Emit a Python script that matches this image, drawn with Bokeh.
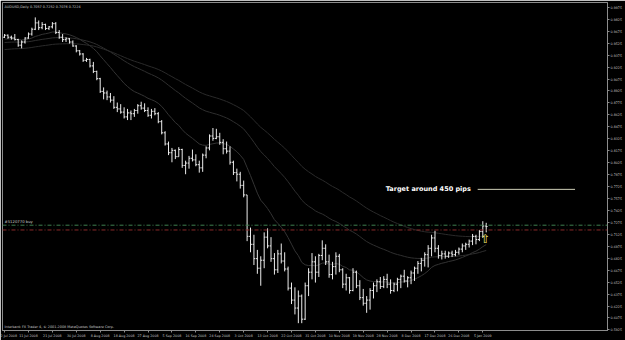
from bokeh.plotting import figure
from bokeh.models import FixedTicker, Label, ColumnDataSource, Span
from bokeh.core.properties import value
from bokeh.embed import file_html
from bokeh.resources import INLINE

# ---- AUDUSD daily bars (Jul 2008 - Jan 2009) ----
opens = [.9600, .9625, .9600, .9590, .9570, .9500, .9540, .9590, .9640, .9700,
         .9780, .9720, .9760, .9710, .9730, .9770, .9660, .9600, .9570, .9580,
         .9540, .9490, .9430, .9390, .9310, .9320, .9240, .9170, .9080, .8920,
         .8900, .8850, .8810, .8720, .8700, .8660, .8600, .8650, .8640, .8680,
         .8740, .8710, .8680, .8620, .8670, .8640, .8540, .8400, .8260, .8150,
         .8180, .8100, .8190, .7990, .8020, .8080, .8060, .8000, .7960, .8120,
         .8210, .8360, .8330, .8350, .8280, .8200, .8170, .8030, .7900, .7880,
         .7740, .7620, .7100, .7000, .6820, .6700, .6800, .7090, .6980, .6820,
         .6680, .6880, .6790, .6690, .6450, .6300, .6200, .6350, .6060, .6480,
         .6650, .6780, .6650, .6860, .6950, .6780, .6620, .6720, .6850, .6680,
         .6500, .6580, .6420, .6650, .6480, .6330, .6260, .6300, .6420, .6480,
         .6530, .6470, .6560, .6500, .6420, .6500, .6560, .6600, .6540, .6580,
         .6640, .6700, .6760, .6800, .6870, .6950, .7080, .6950, .6860, .6880,
         .6850, .6890, .6870, .6900, .6940, .6980, .7000, .7040, .7100, .7060,
         .7160, .7230]
highs = [.9640, .9635, .9620, .9640, .9580, .9560, .9600, .9660, .9720, .9849,
         .9810, .9790, .9770, .9740, .9790, .9790, .9690, .9640, .9600, .9590,
         .9560, .9500, .9440, .9400, .9340, .9330, .9290, .9180, .9090, .8970,
         .8930, .8900, .8860, .8780, .8760, .8720, .8700, .8680, .8700, .8760,
         .8790, .8770, .8720, .8700, .8710, .8660, .8560, .8420, .8290, .8210,
         .8190, .8220, .8200, .8050, .8110, .8190, .8130, .8050, .8140, .8230,
         .8380, .8460, .8450, .8400, .8320, .8290, .8230, .8050, .7950, .7910,
         .7800, .7620, .7210, .7120, .6930, .6850, .7150, .7200, .7090, .6890,
         .6930, .7010, .6900, .6720, .6520, .6460, .6420, .6370, .6520, .6700,
         .6890, .6850, .6880, .7050, .7000, .6870, .6780, .6900, .6880, .6700,
         .6630, .6590, .6700, .6670, .6550, .6440, .6350, .6450, .6520, .6560,
         .6590, .6600, .6630, .6560, .6520, .6580, .6620, .6680, .6600, .6670,
         .6720, .6790, .6830, .6900, .6990, .7120, .7170, .6990, .6920, .6920,
         .6910, .6920, .6930, .6960, .7010, .7020, .7060, .7130, .7120, .7180,
         .7290, .7270]
lows = [.9590, .9580, .9570, .9560, .9480, .9460, .9520, .9580, .9620, .9690,
        .9690, .9700, .9690, .9690, .9710, .9640, .9580, .9540, .9540, .9520,
        .9480, .9410, .9370, .9290, .9290, .9220, .9150, .9060, .8900, .8820,
        .8810, .8780, .8700, .8660, .8640, .8580, .8560, .8560, .8600, .8640,
        .8690, .8660, .8600, .8580, .8620, .8520, .8380, .8240, .8120, .8030,
        .8070, .8100, .7960, .7880, .7950, .8040, .7980, .7900, .7910, .8080,
        .8180, .8300, .8320, .8250, .8130, .8140, .8000, .7870, .7790, .7700,
        .7590, .7040, .6900, .6740, .6630, .6480, .6700, .6950, .6780, .6620,
        .6640, .6760, .6660, .6420, .6250, .6120, .6010, .6010, .6050, .6350,
        .6560, .6520, .6590, .6800, .6740, .6580, .6560, .6620, .6650, .6450,
        .6420, .6380, .6410, .6450, .6300, .6230, .6140, .6180, .6320, .6400,
        .6440, .6450, .6450, .6380, .6400, .6410, .6450, .6520, .6460, .6500,
        .6540, .6630, .6660, .6720, .6710, .6850, .6900, .6820, .6810, .6820,
        .6830, .6840, .6850, .6870, .6900, .6930, .6960, .6990, .7000, .7040,
        .7080, .7150]
closes = [.9625, .9600, .9590, .9570, .9500, .9540, .9590, .9640, .9700, .9780,
          .9720, .9760, .9710, .9730, .9770, .9660, .9600, .9570, .9580, .9540,
          .9490, .9430, .9390, .9310, .9320, .9240, .9170, .9080, .8920, .8900,
          .8850, .8810, .8720, .8700, .8660, .8600, .8650, .8640, .8680, .8740,
          .8710, .8680, .8620, .8670, .8640, .8540, .8400, .8260, .8150, .8180,
          .8100, .8190, .7990, .8020, .8080, .8060, .8000, .7960, .8120, .8210,
          .8360, .8330, .8350, .8280, .8200, .8170, .8030, .7900, .7880, .7740,
          .7620, .7100, .7000, .6820, .6700, .6800, .7090, .6980, .6820, .6680,
          .6880, .6790, .6690, .6450, .6300, .6200, .6350, .6060, .6480, .6650,
          .6780, .6650, .6860, .6950, .6780, .6620, .6720, .6850, .6680, .6500,
          .6580, .6420, .6650, .6480, .6330, .6260, .6300, .6420, .6480, .6530,
          .6470, .6560, .6500, .6420, .6500, .6560, .6600, .6540, .6580, .6640,
          .6700, .6760, .6800, .6870, .6950, .7080, .6950, .6860, .6880, .6850,
          .6890, .6870, .6900, .6940, .6980, .7000, .7040, .7100, .7060, .7160,
          .7230, .7224]

# moving averages: periods and starting values read at the left edge
ma_periods = [18, 50, 80]
ma_seeds = [0.957, 0.953, 0.944]

date_labels = ["2 Jul 2008", "11 Jul 2008", "21 Jul 2008", "30 Jul 2008", "8 Aug 2008",
               "18 Aug 2008", "27 Aug 2008", "5 Sep 2008", "16 Sep 2008", "24 Sep 2008",
               "3 Oct 2008", "13 Oct 2008", "22 Oct 2008", "31 Oct 2008", "10 Nov 2008",
               "19 Nov 2008", "28 Nov 2008", "8 Dec 2008", "17 Dec 2008", "26 Dec 2008",
               "5 Jan 2009"]
date_step = 7
price_ticks = [0.5925, 0.6075, 0.6225, 0.6375, 0.6525, 0.6675, 0.6825, 0.6975,
               0.7125, 0.7275, 0.7425, 0.7575, 0.7725, 0.7875, 0.8025, 0.8175,
               0.8325, 0.8475, 0.8625, 0.8775, 0.8925, 0.9075, 0.9225, 0.9375,
               0.9525, 0.9675, 0.9825, 0.9975]

order_price = 0.7240
order_text = "#5120770 buy"
stop_price = 0.7180
target_pips = 450
title_text = "AUDUSD,Daily  0.7057 0.7252 0.7076 0.7224"
footer_text = "Interbank FX Trader 4, \u00a9 2001-2008 MetaQuotes Software Corp."

n = len(closes)
idx = list(range(n))

# EMAs
ma_series = []
for per, seed in zip(ma_periods, ma_seeds):
    k = 2.0 / (per + 1)
    e = seed
    vals = []
    for c in closes:
        e = e + (c - e) * k
        vals.append(e)
    ma_series.append(vals)

X0, X1 = -0.6, 176.5
Y0, Y1 = 0.5918, 1.0036

p = figure(width=625, height=340, output_backend="svg", toolbar_location=None,
           x_range=(X0, X1), y_range=(Y0, Y1), y_axis_location="right",
           background_fill_color="black", border_fill_color="black",
           min_border_left=2, min_border_top=2, min_border_right=0, min_border_bottom=0)
p.grid.visible = False
p.outline_line_color = "#8c8c8c"
p.outline_line_width = 1

for ax in (p.xaxis[0], p.yaxis[0]):
    ax.axis_line_color = "#8c8c8c"
    ax.major_tick_line_color = "#8c8c8c"
    ax.minor_tick_line_color = None
    ax.major_tick_in = 0
    ax.major_tick_out = 2
    ax.major_label_text_color = "#c4c4c4"
    ax.major_label_text_font = "DejaVu Sans"
    ax.major_label_text_font_size = "3.3px"
    ax.major_label_standoff = 1

tick_pos = [i * date_step for i in range(len(date_labels))]
p.xaxis.ticker = FixedTicker(ticks=tick_pos)
p.xaxis.major_label_overrides = {t: s for t, s in zip(tick_pos, date_labels)}
p.xaxis.major_label_text_align = "left"
p.yaxis.ticker = FixedTicker(ticks=price_ticks)
p.yaxis.major_label_overrides = {t: "%.4f" % t for t in price_ticks}

# moving averages
ma_colors = ["#333333", "#2e2e2e", "#2a2a2a"]
for vals, col in zip(ma_series, ma_colors):
    p.line(idx, vals, line_color=col, line_width=1)

# order / stop lines
p.add_layout(Span(location=order_price, dimension="width", line_color="#3f7f4f",
                  line_dash="4 2 1 2", line_width=1))
p.add_layout(Span(location=stop_price, dimension="width", line_color="#8a2a2a",
                  line_dash="4 2 1 2", line_width=1))

# OHLC bars
src = ColumnDataSource(dict(x=idx, o=opens, h=highs, l=lows, c=closes,
                            xl=[i - 0.4 for i in idx], xr=[i + 0.4 for i in idx]))
bar_col = "#ececec"
p.segment(x0="x", y0="l", x1="x", y1="h", source=src, line_color=bar_col, line_width=1)
p.segment(x0="xl", y0="o", x1="x", y1="o", source=src, line_color=bar_col, line_width=1)
p.segment(x0="x", y0="c", x1="xr", y1="c", source=src, line_color=bar_col, line_width=1)

# target line and text
target_price = order_price + target_pips * 0.0001
p.segment(x0=[n - 3.5], y0=[target_price], x1=[n + 25.0], y1=[target_price],
          line_color="#cfcfb8", line_width=1)
p.text(x=[n - 5.5], y=[target_price], text=["Target around %d pips" % target_pips],
       text_color="white", text_font=value("DejaVu Sans"), text_font_style="bold",
       text_font_size="6.5px", text_align="right", text_baseline="middle")

# buy arrow
p.text(x=[n - 1.2], y=[lows[-1]], text=["\u21e7"], text_color="#f5ec70",
       text_font=value("DejaVu Sans"), text_font_size="12px",
       text_align="center", text_baseline="top")

# labels
p.add_layout(Label(x=X0, y=order_price, x_offset=2, y_offset=1, text=order_text,
                   text_color="#c8c8c8", text_font="DejaVu Sans", text_font_size="3.8px",
                   text_baseline="bottom"))
p.add_layout(Label(x=X0, y=Y1, x_offset=2, y_offset=-2, text=title_text,
                   text_color="#c8c8c8", text_font="DejaVu Sans", text_font_size="3.4px",
                   text_baseline="top"))
p.add_layout(Label(x=X0, y=Y0, x_offset=2, y_offset=2, text=footer_text,
                   text_color="#c8c8c8", text_font="DejaVu Sans", text_font_size="3.4px",
                   text_baseline="bottom"))
p.add_layout(Label(x=X1, y=closes[-1], x_offset=1, text="%.4f" % closes[-1],
                   text_color="black", background_fill_color="white",
                   text_font="DejaVu Sans", text_font_size="3.5px",
                   text_baseline="middle"))

open("out.html", "w").write(file_html(p, INLINE))
